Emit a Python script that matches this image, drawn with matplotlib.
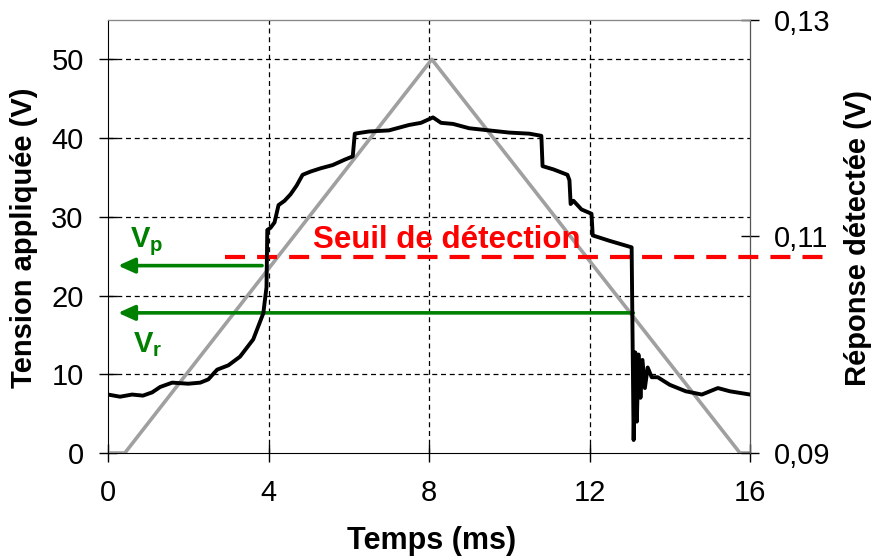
import matplotlib
matplotlib.use("Agg")
import matplotlib.pyplot as plt
from matplotlib.ticker import FuncFormatter

plt.rcParams['font.family'] = ['Liberation Sans', 'DejaVu Sans']
plt.rcParams['mathtext.fontset'] = 'custom'
plt.rcParams['mathtext.rm'] = 'Liberation Sans'
plt.rcParams['mathtext.bf'] = 'Liberation Sans:bold'

# applied voltage ramp (V) vs time (ms)
ramp_t = [0, 0.42, 8.07, 15.75, 16]
ramp_v = [0, 0, 50, 0, 0]

# detected response (V) vs time (ms)
resp_t = [0.0, 0.3, 0.6, 0.87, 1.1, 1.3, 1.6, 2.0, 2.3, 2.5, 2.72, 3.0, 3.29, 3.62,
          3.87, 3.95, 3.97, 4.05, 4.15, 4.25, 4.4, 4.55, 4.7, 4.85, 5.05, 5.3, 5.6,
          5.9, 6.1, 6.15, 6.5, 7.0, 7.5, 7.8, 8.1, 8.3, 8.6, 9.0, 9.5, 10.0, 10.5,
          10.8, 10.83, 11.1, 11.45, 11.5, 11.53, 11.6, 11.8, 12.05, 12.08, 12.5,
          13.05, 13.1, 13.14, 13.18, 13.22, 13.27, 13.32, 13.38, 13.45, 13.55,
          13.7, 14.0, 14.4, 14.8, 15.2, 15.5, 16.0]
resp_v = [0.0954, 0.0952, 0.0954, 0.0953, 0.0956, 0.0961, 0.0965, 0.0964, 0.0965,
          0.0968, 0.0977, 0.0981, 0.0989, 0.1005, 0.1029, 0.1053, 0.1106, 0.1108,
          0.1113, 0.1129, 0.1133, 0.1139, 0.1147, 0.1157, 0.1160, 0.1163, 0.1166,
          0.1171, 0.1174, 0.1195, 0.1197, 0.1198, 0.1203, 0.1205, 0.1210, 0.1205,
          0.1204, 0.1200, 0.1198, 0.1196, 0.1195, 0.1193, 0.1165, 0.1162, 0.1157,
          0.1152, 0.1130, 0.1133, 0.1125, 0.1121, 0.1101, 0.1096, 0.1090, 0.0912,
          0.0993, 0.0929, 0.0991, 0.0951, 0.0986, 0.0960, 0.0979, 0.0970, 0.0970,
          0.0963, 0.0957, 0.0954, 0.0960, 0.0957, 0.0954]

threshold = 0.1081          # detection threshold (V, right axis)
threshold_t = [2.92, 17.9]
vp = 23.8                   # appearance voltage (V)
vp_t = 3.84
vr = 17.8                   # release voltage (V)
vr_t = 13.09

fig = plt.figure(figsize=(8.75, 5.58), dpi=100)
ax = fig.add_axes([108 / 875, 1 - 453 / 558, 642 / 875, 433 / 558])
ax2 = ax.twinx()

ax.set_xlim(0, 16)
ax.set_ylim(0, 55)
ax2.set_ylim(0.09, 0.13)
ax.set_xticks([0, 4, 8, 12, 16])
ax.set_yticks([0, 10, 20, 30, 40, 50])
ax2.set_yticks([0.09, 0.11, 0.13])
ax2.yaxis.set_major_formatter(FuncFormatter(lambda v, p: f"{v:.2f}".replace('.', ',')))

for a in (ax, ax2):
    a.tick_params(direction='inout', length=13, width=1, labelsize=21, pad=11)
ax.tick_params(axis='x', pad=12)

# dashed grid, not on the frame edges
for x in [4, 8, 12]:
    ax.axvline(x, color='black', lw=0.9, ls=(0, (4, 3)), zorder=0)
for y in [10, 20, 30, 40, 50]:
    ax.axhline(y, color='black', lw=0.9, ls=(0, (4, 3)), zorder=0)

ax.spines['left'].set_color('black')
ax.spines['bottom'].set_color('black')
ax2.spines['right'].set_color('#555555')
ax2.spines['top'].set_color('#888888')
ax2.spines['left'].set_visible(False)
ax2.spines['bottom'].set_visible(False)

ax.plot(ramp_t, ramp_v, color='#a0a0a0', lw=2.6, zorder=2)

ax2.plot(threshold_t, [threshold, threshold], color='#ff0000', lw=3,
         ls=(0, (4.8, 2.9)), clip_on=False, zorder=3)

for v, t in [(vp, vp_t), (vr, vr_t)]:
    ax.annotate('', xy=(0.25, v), xytext=(t, v),
                arrowprops=dict(arrowstyle='-|>,head_length=1.0,head_width=0.45',
                                color='#008000', lw=2.6, shrinkA=0, shrinkB=0,
                                mutation_scale=10), zorder=4)

ax2.plot(resp_t, resp_v, color='black', lw=2.8, zorder=5)

ax.text(0.55, 26.2, r'$\mathbf{V_p}$', color='#008000', fontsize=21,
        ha='left', va='baseline')
ax.text(0.62, 12.85, r'$\mathbf{V_r}$', color='#008000', fontsize=21,
        ha='left', va='baseline')
ax.text(5.11, 26.1, 'Seuil de détection', color='#ff0000', fontsize=22.5,
        fontweight='bold', ha='left', va='baseline', zorder=6)

fig.text(24 / 875, 1 - 238 / 558, 'Tension appliquée (V)', rotation=90,
         ha='center', va='center', fontsize=21, fontweight='bold')
fig.text(858 / 875, 1 - 238 / 558, 'Réponse détectée (V)', rotation=90,
         ha='center', va='center', fontsize=21, fontweight='bold')
fig.text(432 / 875, 1 - 541 / 558, 'Temps (ms)', ha='center', va='center',
         fontsize=22, fontweight='bold')

fig.savefig('out.png', dpi=100)
